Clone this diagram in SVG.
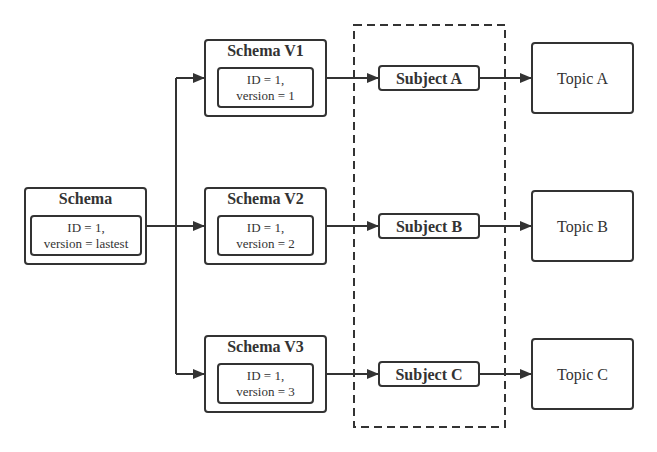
<svg xmlns="http://www.w3.org/2000/svg" width="657" height="452" viewBox="0 0 657 452">
<style>
.box{fill:#fff;stroke:#333;stroke-width:2}
.t{font-family:"Liberation Serif",serif;fill:#333;text-anchor:middle}
.title{font-size:16px;font-weight:bold}
.sm{font-size:13px}
.topic{font-size:16px}
.ln{fill:none;stroke:#333;stroke-width:2}
</style>
<defs>
<marker id="arr" viewBox="0 0 12 10" refX="12" refY="5" markerWidth="12" markerHeight="10" markerUnits="userSpaceOnUse" orient="auto">
<path d="M0,0 L12,5 L0,10 Z" fill="#333"/>
</marker>
</defs>
<rect x="0" y="0" width="657" height="452" fill="#fff"/>
<g id="subjects-group">
<rect x="354" y="25" width="151" height="402" fill="none" stroke="#333" stroke-width="2" stroke-dasharray="8,5"/>
</g>
<g id="connectors">
<path class="ln" d="M146,226 H176"/>
<path class="ln" d="M176,78 V374"/>
<path class="ln" d="M176,78 H205" marker-end="url(#arr)"/>
<path class="ln" d="M176,226 H205" marker-end="url(#arr)"/>
<path class="ln" d="M176,374 H205" marker-end="url(#arr)"/>
<path class="ln" d="M326,78 H379" marker-end="url(#arr)"/>
<path class="ln" d="M326,226 H379" marker-end="url(#arr)"/>
<path class="ln" d="M326,374 H379" marker-end="url(#arr)"/>
<path class="ln" d="M479,78 H532" marker-end="url(#arr)"/>
<path class="ln" d="M479,226 H532" marker-end="url(#arr)"/>
<path class="ln" d="M479,374 H532" marker-end="url(#arr)"/>
</g>
<g id="schema">
<rect class="box" x="25" y="188" width="121" height="76" rx="3"/>
<text class="t title" x="85.5" y="204">Schema</text>
<rect class="box" x="31" y="216" width="110" height="39" rx="3"/>
<text class="t sm" x="86" y="232">ID = 1,</text>
<text class="t sm" x="86" y="248">version = lastest</text>
</g>
<g id="schema-v1">
<rect class="box" x="205" y="40" width="121" height="76" rx="3"/>
<text class="t title" x="265.5" y="56">Schema V1</text>
<rect class="box" x="218" y="68" width="95" height="39" rx="3"/>
<text class="t sm" x="265.5" y="84">ID = 1,</text>
<text class="t sm" x="265.5" y="100">version = 1</text>
</g>
<g id="schema-v2">
<rect class="box" x="205" y="188" width="121" height="76" rx="3"/>
<text class="t title" x="265.5" y="204">Schema V2</text>
<rect class="box" x="218" y="216" width="95" height="39" rx="3"/>
<text class="t sm" x="265.5" y="232">ID = 1,</text>
<text class="t sm" x="265.5" y="248">version = 2</text>
</g>
<g id="schema-v3">
<rect class="box" x="205" y="336" width="121" height="76" rx="3"/>
<text class="t title" x="265.5" y="352">Schema V3</text>
<rect class="box" x="218" y="364" width="95" height="39" rx="3"/>
<text class="t sm" x="265.5" y="380">ID = 1,</text>
<text class="t sm" x="265.5" y="396">version = 3</text>
</g>
<g id="subject-a">
<rect class="box" x="379" y="66" width="100" height="24" rx="3"/>
<text class="t title" x="429" y="84">Subject A</text>
</g>
<g id="subject-b">
<rect class="box" x="379" y="214" width="100" height="24" rx="3"/>
<text class="t title" x="429" y="232">Subject B</text>
</g>
<g id="subject-c">
<rect class="box" x="379" y="362" width="100" height="24" rx="3"/>
<text class="t title" x="429" y="380">Subject C</text>
</g>
<g id="topic-a">
<rect class="box" x="532" y="43" width="101" height="70" rx="3"/>
<text class="t topic" x="582.5" y="84">Topic A</text>
</g>
<g id="topic-b">
<rect class="box" x="532" y="191" width="101" height="70" rx="3"/>
<text class="t topic" x="582.5" y="232">Topic B</text>
</g>
<g id="topic-c">
<rect class="box" x="532" y="339" width="101" height="70" rx="3"/>
<text class="t topic" x="582.5" y="380">Topic C</text>
</g>
</svg>
